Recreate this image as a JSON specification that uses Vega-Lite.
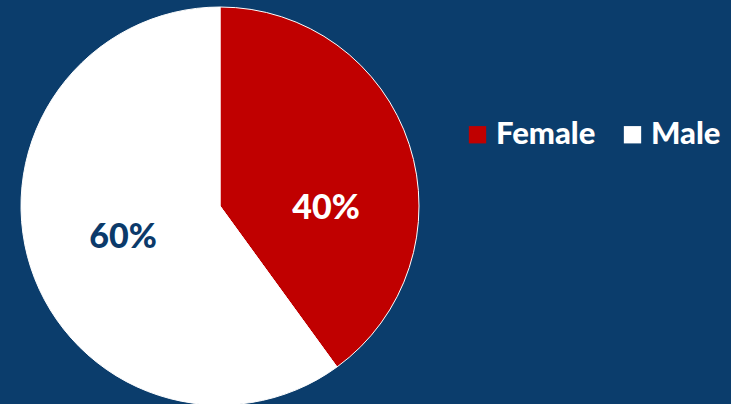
{
  "$schema": "https://vega.github.io/schema/vega-lite/v6.json",
  "width": 440,
  "height": 412,
  "autosize": {"type": "none"},
  "padding": {"left": 0, "top": 0, "right": 291, "bottom": 0},
  "background": "#0B3D6C",
  "config": {"view": {"stroke": null}, "font": "Lato"},
  "data": {"values": [
    {"sex": "Female", "share": 40, "label": "40%"},
    {"sex": "Male", "share": 60, "label": "60%"}
  ]},
  "encoding": {
    "theta": {"field": "share", "type": "quantitative", "stack": true}
  },
  "layer": [
    {
      "mark": {"type": "arc", "outerRadius": 199, "stroke": "#ffffff", "strokeWidth": 1},
      "encoding": {
        "color": {
          "field": "sex", "type": "nominal",
          "scale": {"domain": ["Female", "Male"], "range": ["#C00000", "#FFFFFF"]},
          "legend": {
            "title": null, "orient": "none", "legendX": 462, "legendY": 119,
            "direction": "horizontal", "columns": 2,
            "symbolType": "square", "symbolSize": 300, "symbolStrokeWidth": 0,
            "labelColor": "#FFFFFF", "labelFont": "Lato", "labelFontSize": 31,
            "labelFontWeight": 900, "labelOffset": 3, "columnPadding": 21,
            "labelLimit": 300
          }
        }
      }
    },
    {
      "mark": {"type": "text", "radius": 102, "font": "Lato", "fontSize": 34, "fontWeight": 900, "fill": "#0B3A6A"},
      "encoding": {
        "text": {"field": "label"},
        "opacity": {"condition": {"test": "datum.sex === 'Male'", "value": 1}, "value": 0}
      }
    },
    {
      "mark": {"type": "text", "radius": 102, "dx": 9, "dy": 35, "font": "Lato", "fontSize": 34, "fontWeight": 900, "fill": "#FFFFFF"},
      "encoding": {
        "text": {"field": "label"},
        "opacity": {"condition": {"test": "datum.sex === 'Female'", "value": 1}, "value": 0}
      }
    }
  ]
}
